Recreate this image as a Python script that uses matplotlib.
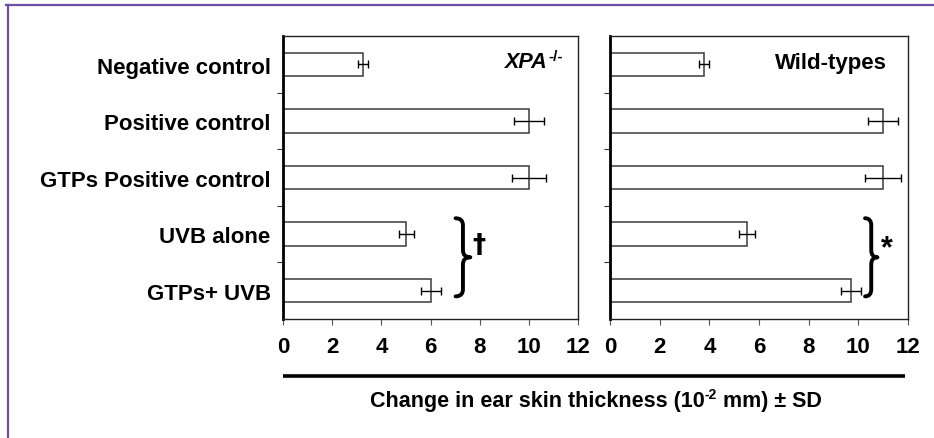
import matplotlib
matplotlib.use("Agg")
import matplotlib.pyplot as plt
import numpy as np
from matplotlib.path import Path
from matplotlib.patches import PathPatch
from matplotlib.lines import Line2D

plt.rcParams['font.family'] = ['Liberation Sans', 'DejaVu Sans']
plt.rcParams['font.weight'] = 'bold'

categories = ["Negative control", "Positive control", "GTPs Positive control",
              "UVB alone", "GTPs+ UVB"]
xpa_values = [3.25, 10.0, 10.0, 5.02, 6.02]
xpa_sd = [0.2, 0.6, 0.7, 0.32, 0.4]
wt_values = [3.8, 11.0, 11.0, 5.5, 9.72]
wt_sd = [0.2, 0.6, 0.72, 0.32, 0.4]
x_ticks = [0, 2, 4, 6, 8, 10, 12]
panel_titles = ["XPA", "Wild-types"]
title_sup = "-/-"
marks = ["\u2020", "*"]
xlabel_parts = ["Change in ear skin thickness (10", "-2", " mm) \u00b1 SD"]

W, H = 934, 439
fig = plt.figure(figsize=(W / 100, H / 100), dpi=100)
renderer = fig.canvas.get_renderer()

def px_axes(x0, y0, x1, y1):
    return fig.add_axes([x0 / W, 1 - y1 / H, (x1 - x0) / W, (y1 - y0) / H])

ax1 = px_axes(283, 37, 578, 320)
ax2 = px_axes(610, 37, 908, 320)

def brace(ax, x0, x1, y0, y1, lw=2.8):
    xm = (x0 + x1) / 2
    ym = (y0 + y1) / 2
    d = (y1 - y0) * 0.09
    verts = [
        (x0, y0), (xm, y0), (xm, y0 + d),
        (xm, ym - d),
        (xm, ym), (x1, ym),
        (xm, ym), (xm, ym + d),
        (xm, y1 - d),
        (xm, y1), (x0, y1),
    ]
    codes = [Path.MOVETO, Path.CURVE3, Path.CURVE3,
             Path.LINETO,
             Path.CURVE3, Path.CURVE3,
             Path.CURVE3, Path.CURVE3,
             Path.LINETO,
             Path.CURVE3, Path.CURVE3]
    ax.add_patch(PathPatch(Path(verts, codes), fill=False, lw=lw,
                           edgecolor='black', capstyle='round',
                           joinstyle='round', clip_on=False))

ypos = np.arange(len(categories))
for ax, vals, sds in [(ax1, xpa_values, xpa_sd), (ax2, wt_values, wt_sd)]:
    ax.barh(ypos, vals, height=0.41, color='white', edgecolor='#3a3a3a',
            linewidth=1.1, zorder=2)
    ax.errorbar(vals, ypos, xerr=sds, fmt='none', ecolor='black',
                elinewidth=1.0, capsize=2.6, capthick=1.0, zorder=3)
    ax.set_xlim(0, 12)
    ax.set_ylim(len(categories) - 0.5, -0.5)
    ax.set_xticks(x_ticks)
    ax.set_xticklabels([str(t) for t in x_ticks], fontsize=16, fontweight='bold')
    ax.set_yticks(ypos[:-1] + 0.5)
    ax.set_yticklabels([])
    ax.tick_params(axis='x', direction='out', length=4, width=0.8,
                   color='#555555', pad=8)
    ax.tick_params(axis='y', direction='out', length=4, width=0.8,
                   color='#333333')
    for s in ['top', 'right', 'bottom']:
        ax.spines[s].set_linewidth(1.0)
        ax.spines[s].set_color('#222222')
    ax.spines['left'].set_linewidth(2.0)
    ax.spines['left'].set_color('black')

# category labels on the left panel
for yi, lab in zip(ypos, categories):
    ax1.text(-0.5, yi + 0.05, lab, ha='right', va='center', fontsize=16,
             fontweight='bold')

# panel titles
fig.text(548 / W, 1 - 63 / H, panel_titles[0], ha='right', va='center',
         fontsize=15.5, fontweight='bold', style='italic')
fig.text(548.5 / W, 1 - 57 / H, title_sup, ha='left', va='center',
         fontsize=11, fontweight='bold')
fig.text(887 / W, 1 - 63 / H, panel_titles[1], ha='right', va='center',
         fontsize=16, fontweight='bold')

# significance braces between UVB alone and GTPs+ UVB
brace(ax1, max(xpa_values[3:]) + 1.0, max(xpa_values[3:]) + 1.6, 2.72, 4.1)
ax1.text(max(xpa_values[3:]) + 1.7, 3.2, marks[0], ha='left', va='center',
         fontsize=19, fontweight='bold', family='DejaVu Sans')
brace(ax2, max(wt_values[3:]) + 0.55, max(wt_values[3:]) + 1.05, 2.72, 4.1)
ax2.text(max(wt_values[3:]) + 1.2, 3.25, marks[1], ha='left', va='center',
         fontsize=22, fontweight='bold')

# shared axis line and label
fig.add_artist(Line2D([283 / W, 905 / W], [1 - 377 / H, 1 - 377 / H],
                      color='black', lw=2.6, solid_capstyle='butt'))
fs_lab = 15.5
widths = []
tmp = []
for i, part in enumerate(xlabel_parts):
    fs = fs_lab * 0.65 if i == 1 else fs_lab
    t = fig.text(0, 0, part, fontsize=fs, fontweight='bold')
    widths.append(t.get_window_extent(renderer).width)
    tmp.append(t)
total = sum(widths)
xcur = 596 - total / 2
ybase = H - 407
for i, t in enumerate(tmp):
    yb = ybase + (8 if i == 1 else 0)
    t.set_position((xcur / W, yb / H))
    t.set_ha('left')
    t.set_va('baseline')
    xcur += widths[i]

# purple frame (top and left)
purple = '#6b4fa8'
fig.add_artist(Line2D([6 / W, 1.0], [1 - 6 / H, 1 - 6 / H], color=purple, lw=1.6))
fig.add_artist(Line2D([8 / W, 8 / W], [0, 1 - 6 / H], color=purple, lw=1.6))

fig.savefig('out.png', dpi=100)
